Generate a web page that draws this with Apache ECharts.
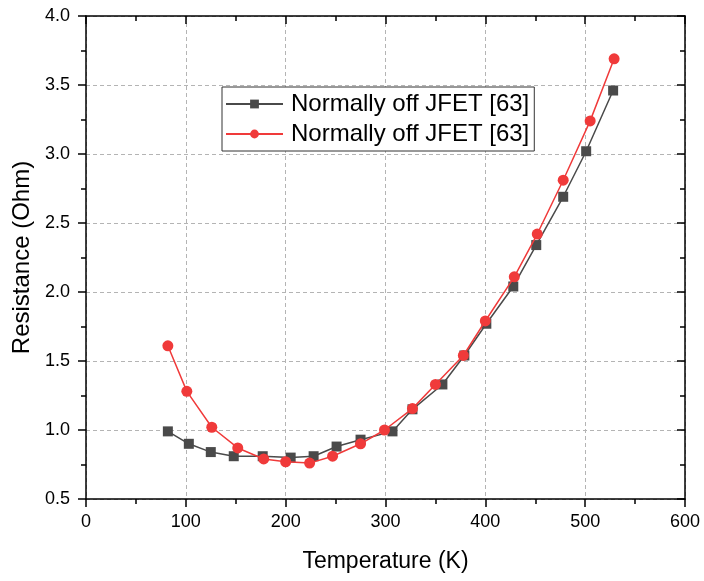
<!DOCTYPE html>
<html><head><meta charset="utf-8">
<script src="https://cdn.jsdelivr.net/npm/echarts@6/dist/echarts.min.js"></script>
<style>html,body{margin:0;padding:0;background:#fff}#c{width:704px;height:581px}</style>
</head><body><div id="c"></div>
<script>
const seriesNames = ['Normally off JFET [63]', 'Normally off JFET [63]'];
const blackT = [82, 103, 125, 148, 177, 205, 228, 251, 275, 307, 327, 357, 379, 401, 428, 451, 478, 501, 528];
const blackR = [0.99, 0.90, 0.84, 0.81, 0.81, 0.80, 0.81, 0.88, 0.93, 0.99, 1.15, 1.33, 1.54, 1.77, 2.04, 2.34, 2.69, 3.02, 3.46];
const redT = [82, 101, 126, 152, 178, 200, 224, 247, 275, 299, 327, 350, 378, 400, 429, 452, 478, 505, 529];
const redR = [1.61, 1.28, 1.02, 0.87, 0.79, 0.77, 0.76, 0.81, 0.90, 1.00, 1.155, 1.33, 1.54, 1.79, 2.11, 2.42, 2.81, 3.24, 3.69];
const xTicks = [0, 600, 100];
const yTicks = [0.5, 4.0, 0.5];

const font = 'Liberation Sans, Arial, sans-serif';
const pair = (xs, ys) => xs.map((x, i) => [x, ys[i]]);
const axisLine = {show: true, onZero: false, lineStyle: {color: '#000', width: 1.5}};
const chart = echarts.init(document.getElementById('c'));
chart.setOption({
  animation: false,
  grid: {left: 86, right: 19, top: 16, bottom: 82},
  legend: {
    left: 222, top: 87, orient: 'vertical', itemWidth: 57, itemHeight: 11, itemGap: 6,
    padding: [5, 5, 5, 3], borderColor: '#333', borderWidth: 1, backgroundColor: '#fff',
    textStyle: {fontFamily: font, fontSize: 24, color: '#000', padding: [0, 0, 0, 3]},
    data: [{name: 's1'}, {name: 's2'}],
    formatter: n => n === 's1' ? seriesNames[0] : seriesNames[1]
  },
  xAxis: [{
    type: 'value', min: xTicks[0], max: xTicks[1], interval: xTicks[2], position: 'bottom',
    name: 'Temperature (K)', nameLocation: 'middle', nameGap: 51,
    nameTextStyle: {fontFamily: font, fontSize: 23, color: '#000'},
    axisLine: axisLine,
    axisTick: {show: true, inside: false, length: 8, lineStyle: {color: '#000', width: 1.5}},
    minorTick: {show: true, splitNumber: 2, length: 5, lineStyle: {color: '#000', width: 1.5}},
    axisLabel: {fontFamily: font, fontSize: 18, color: '#000', margin: 14},
    splitLine: {show: true, lineStyle: {color: '#b4b4b4', type: [4, 3], width: 1}}
  }, {
    type: 'value', min: xTicks[0], max: xTicks[1], interval: xTicks[2], position: 'top',
    axisLine: axisLine,
    axisTick: {show: true, inside: true, length: 8, lineStyle: {color: '#000', width: 1.5}},
    minorTick: {show: true, splitNumber: 2, length: 5, lineStyle: {color: '#000', width: 1.5}},
    axisLabel: {show: false}, splitLine: {show: false}
  }],
  yAxis: [{
    type: 'value', min: yTicks[0], max: yTicks[1], interval: yTicks[2], position: 'left',
    name: 'Resistance (Ohm)', nameLocation: 'middle', nameGap: 51,
    nameTextStyle: {fontFamily: font, fontSize: 24, color: '#000'},
    axisLine: axisLine,
    axisTick: {show: true, inside: false, length: 8, lineStyle: {color: '#000', width: 1.5}},
    minorTick: {show: true, splitNumber: 2, length: 5, lineStyle: {color: '#000', width: 1.5}},
    axisLabel: {fontFamily: font, fontSize: 18, color: '#000', margin: 16, formatter: v => v.toFixed(1)},
    splitLine: {show: true, lineStyle: {color: '#b4b4b4', type: [4, 3], width: 1}}
  }, {
    type: 'value', min: yTicks[0], max: yTicks[1], interval: yTicks[2], position: 'right',
    axisLine: axisLine,
    axisTick: {show: true, inside: true, length: 8, lineStyle: {color: '#000', width: 1.5}},
    minorTick: {show: true, splitNumber: 2, length: 5, lineStyle: {color: '#000', width: 1.5}},
    axisLabel: {show: false}, splitLine: {show: false}
  }],
  series: [{
    name: 's1', type: 'line', data: pair(blackT, blackR),
    symbol: 'rect', symbolSize: 10, z: 3,
    lineStyle: {color: '#4a4a4a', width: 1.5}, itemStyle: {color: '#4a4a4a'}
  }, {
    name: 's2', type: 'line', data: pair(redT, redR),
    symbol: 'circle', symbolSize: 11, z: 4,
    lineStyle: {color: '#f03a3a', width: 1.5}, itemStyle: {color: '#f03a3a'}
  }]
});
</script></body></html>
